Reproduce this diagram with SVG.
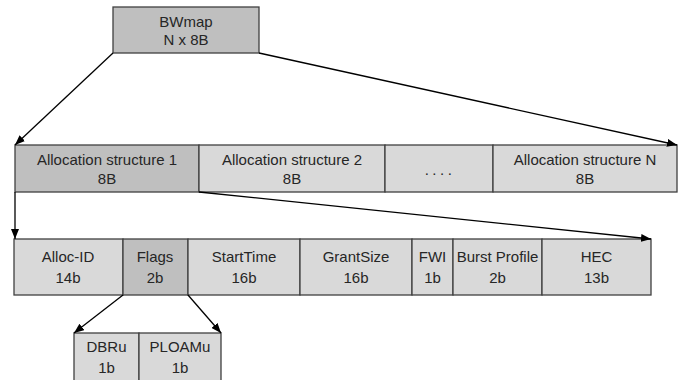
<svg xmlns="http://www.w3.org/2000/svg" width="683" height="380" viewBox="0 0 683 380">
<style>
.b{fill:#d9d9d9;stroke:#404040;stroke-width:1.3}
.d{fill:#bfbfbf;stroke:#404040;stroke-width:1.3}
text{font-family:"Liberation Sans",Arial,sans-serif;font-size:15px;fill:#262626;text-anchor:middle}
.c line{stroke:#000;stroke-width:1.3;marker-end:url(#ah)}
</style>
<defs>
<marker id="ah" viewBox="0 0 10 8" refX="10" refY="4" markerWidth="10" markerHeight="8" markerUnits="userSpaceOnUse" orient="auto">
<path d="M0,0 L10,4 L0,8 Z" fill="#000"/>
</marker>
</defs>
<g id="bwmap"><rect class="d" x="113" y="7" width="146" height="46"/><text x="186" y="27">BWmap</text><text x="186" y="45">N x 8B</text></g>
<g id="alloc1"><rect class="d" x="15" y="145" width="184" height="47"/><text x="107" y="165">Allocation structure 1</text><text x="107" y="184">8B</text></g>
<g id="alloc2"><rect class="b" x="199" y="145" width="186" height="47"/><text x="292" y="165">Allocation structure 2</text><text x="292" y="184">8B</text></g>
<g id="allocdots"><rect class="b" x="385" y="145" width="108" height="47"/><text x="440" y="175" letter-spacing="3.5">....</text></g>
<g id="allocN"><rect class="b" x="493" y="145" width="184" height="47"/><text x="585" y="165">Allocation structure N</text><text x="585" y="184">8B</text></g>
<g id="allocid"><rect class="b" x="14" y="239" width="109" height="56"/><text x="68" y="262">Alloc-ID</text><text x="68" y="283">14b</text></g>
<g id="flags"><rect class="d" x="123" y="239" width="65" height="56"/><text x="155" y="262">Flags</text><text x="155" y="283">2b</text></g>
<g id="starttime"><rect class="b" x="188" y="239" width="112" height="56"/><text x="244" y="262">StartTime</text><text x="244" y="283">16b</text></g>
<g id="grantsize"><rect class="b" x="300" y="239" width="112" height="56"/><text x="356" y="262">GrantSize</text><text x="356" y="283">16b</text></g>
<g id="fwi"><rect class="b" x="412" y="239" width="41" height="56"/><text x="432.5" y="262">FWI</text><text x="432.5" y="283">1b</text></g>
<g id="burst"><rect class="b" x="453" y="239" width="89" height="56"/><text x="497.5" y="262" font-size="14.5">Burst Profile</text><text x="497.5" y="283">2b</text></g>
<g id="hec"><rect class="b" x="542" y="239" width="109" height="56"/><text x="596.5" y="262">HEC</text><text x="596.5" y="283">13b</text></g>
<g id="dbru"><rect class="b" x="74" y="333" width="65" height="55"/><text x="106.5" y="352">DBRu</text><text x="106.5" y="373">1b</text></g>
<g id="ploamu"><rect class="b" x="139" y="333" width="82" height="55"/><text x="180" y="352">PLOAMu</text><text x="180" y="373">1b</text></g>
<g id="connectors" class="c">
<line x1="113" y1="53" x2="15" y2="145"/>
<line x1="259" y1="53" x2="677" y2="145"/>
<line x1="15" y1="192" x2="15" y2="239"/>
<line x1="199" y1="192" x2="651" y2="239"/>
<line x1="123" y1="295" x2="74" y2="333"/>
<line x1="188" y1="295" x2="221" y2="333"/>
</g>
</svg>
